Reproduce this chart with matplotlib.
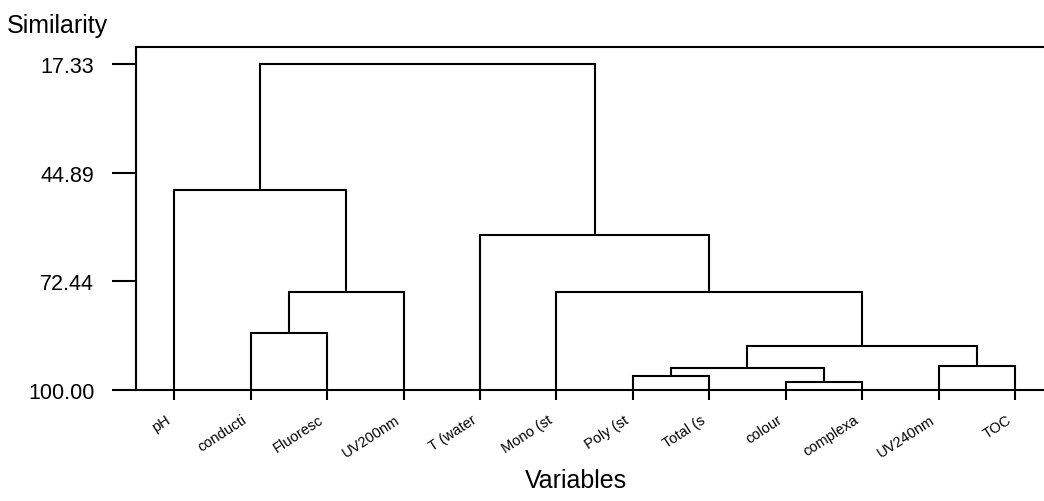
import matplotlib
matplotlib.use('Agg')
import matplotlib.pyplot as plt
import matplotlib.transforms as mtransforms

plt.rcParams['font.family'] = ['Liberation Sans', 'DejaVu Sans']

# leaf order as drawn on the x axis
variables = ['pH', 'conducti', 'Fluoresc', 'UV200nm', 'T (water', 'Mono (st',
             'Poly (st', 'Total (s', 'colour', 'complexa', 'UV240nm', 'TOC']

# merges: (left id, right id, similarity); leaves are 0..11, clusters 12..
merge_left = [1, 12, 0, 6, 8, 15, 10, 17, 5, 4, 14]
merge_right = [2, 3, 13, 7, 9, 16, 11, 18, 19, 20, 21]
merge_sim = [85.5, 75.15, 49.3, 96.45, 98.0, 94.4, 93.9, 88.8, 75.15, 60.7, 17.33]

yticks = [17.33, 44.89, 72.44, 100.00]

fig = plt.figure(figsize=(10.44, 5.02), dpi=100)
ax = fig.add_axes([0.1303, 0.2211, 0.8697, 0.6833])

lw = 1.5
# node x position / height, starting from the leaves
node_x = {i: float(i) for i in range(len(variables))}
node_y = {i: 100.0 for i in range(len(variables))}
for k, (a, b, s) in enumerate(zip(merge_left, merge_right, merge_sim)):
    nid = len(variables) + k
    xa, xb = node_x[a], node_x[b]
    ax.plot([xa, xa, xb, xb], [node_y[a], s, s, node_y[b]],
            color='black', lw=lw, solid_capstyle='butt', solid_joinstyle='miter')
    node_x[nid] = (xa + xb) / 2
    node_y[nid] = s

ax.set_xlim(-0.5, 11.38)
ax.set_ylim(100, 13.0)
ax.spines['right'].set_visible(False)
for sp in ['left', 'top', 'bottom']:
    ax.spines[sp].set_linewidth(lw)

ax.set_yticks(yticks)
ax.set_yticklabels([f'{v:.2f}' for v in yticks], fontsize=15.5)
ax.tick_params(axis='y', direction='out', length=17, width=lw, pad=13)

ax.set_xticks(range(len(variables)))
ax.set_xticklabels(variables, fontsize=10.5, rotation=33,
                   ha='right', va='top', rotation_mode='anchor')
ax.tick_params(axis='x', direction='out', length=7, width=lw, pad=9)
# labels sit a bit left of their tick in the original
shift = mtransforms.ScaledTranslation(-0.09, 0, fig.dpi_scale_trans)
for lab in ax.get_xticklabels():
    lab.set_transform(lab.get_transform() + shift)

fig.text(0.007, 0.935, 'Similarity', fontsize=18, ha='left', va='baseline')
fig.text(0.552, 0.028, 'Variables', fontsize=18, ha='center', va='baseline')

fig.savefig('out.png', dpi=100)
